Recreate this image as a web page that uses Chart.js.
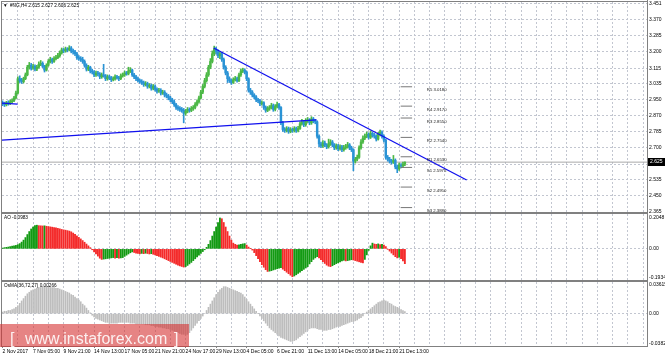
<!DOCTYPE html>
<html><head><meta charset="utf-8">
<script src="https://cdn.jsdelivr.net/npm/chart.js@4.4.1/dist/chart.umd.min.js"></script>
<style>
html,body{margin:0;padding:0;background:#fff;}
#wrap{position:relative;width:665px;height:357px;overflow:hidden;background:#fff;}
canvas{position:absolute;left:0;top:0;}
#wm{position:absolute;left:0;top:324px;width:189px;height:23px;background:rgba(214,50,50,0.6);}
#wm span{position:absolute;top:7px;font:16px 'Liberation Sans',Arial,sans-serif;line-height:1;color:rgba(255,255,255,0.88);white-space:pre;}
</style></head><body>
<div id="wrap">
<canvas id="cMain" width="665" height="357"></canvas>
<canvas id="cAO" width="665" height="357"></canvas>
<canvas id="cOs" width="665" height="357"></canvas>
<div id="wm"><span style="left:10px">[</span><span style="left:25px">www.instaforex.com</span><span style="left:174px">]</span></div>
</div>
<script>
// ---------------- DATA ----------------
const timeLabels = ['2 Nov 2017','7 Nov 05:00','9 Nov 21:00','14 Nov 13:00','17 Nov 05:00','21 Nov 21:00','24 Nov 17:00','29 Nov 13:00','4 Dec 05:00','6 Dec 21:00','11 Dec 13:00','14 Dec 05:00','18 Dec 21:00','21 Dec 13:00'];
const firstOpen = 2.935;
const closes = [
2.930,2.925,2.935,2.930,2.940,2.945,2.960,2.985,3.060,3.050,
3.045,3.060,3.080,3.120,3.130,3.115,3.125,3.110,3.120,3.135,
3.140,3.125,3.105,3.130,3.150,3.160,3.150,3.165,3.170,3.180,
3.195,3.210,3.205,3.215,3.210,3.220,3.205,3.200,3.190,3.170,
3.165,3.160,3.150,3.130,3.110,3.120,3.100,3.095,3.080,3.090,
3.085,3.070,3.080,3.075,3.060,3.070,3.065,3.055,3.060,3.070,
3.065,3.060,3.075,3.080,3.090,3.085,3.100,3.105,3.080,3.070,
3.060,3.050,3.045,3.040,3.030,3.035,3.020,3.025,3.010,3.020,
3.005,2.995,3.000,2.985,2.990,2.975,2.970,2.960,2.950,2.940,
2.925,2.910,2.905,2.900,2.895,2.880,2.890,2.900,2.895,2.905,
2.910,2.925,2.940,2.960,2.990,3.020,3.050,3.080,3.120,3.150,
3.190,3.215,3.200,3.180,3.190,3.160,3.120,3.090,3.060,3.050,
3.040,3.055,3.060,3.050,3.080,3.100,3.105,3.095,3.060,3.000,
2.990,2.975,2.965,2.950,2.945,2.930,2.935,2.910,2.895,2.905,
2.910,2.920,2.900,2.915,2.925,2.910,2.830,2.795,2.790,2.800,
2.785,2.795,2.790,2.800,2.790,2.800,2.825,2.835,2.820,2.840,
2.845,2.830,2.850,2.840,2.835,2.760,2.720,2.710,2.725,2.715,
2.705,2.720,2.730,2.715,2.700,2.710,2.695,2.705,2.690,2.700,
2.705,2.715,2.700,2.690,2.630,2.640,2.650,2.700,2.730,2.750,
2.760,2.770,2.755,2.775,2.765,2.760,2.745,2.770,2.780,2.760,
2.740,2.650,2.640,2.630,2.625,2.635,2.600,2.590,2.610,2.605,
2.615,2.625];
const highs = [
2.945,2.938,2.942,2.945,2.950,2.955,2.968,2.995,3.070,3.075,
3.062,3.068,3.090,3.130,3.145,3.140,3.135,3.132,3.130,3.148,
3.155,3.148,3.130,3.138,3.160,3.172,3.168,3.175,3.182,3.192,
3.205,3.220,3.218,3.225,3.222,3.232,3.228,3.215,3.208,3.198,
3.180,3.175,3.172,3.158,3.138,3.130,3.125,3.110,3.102,3.100,
3.098,3.092,3.090,3.135,3.082,3.080,3.078,3.072,3.070,3.080,
3.078,3.072,3.085,3.090,3.100,3.098,3.120,3.118,3.110,3.088,
3.078,3.068,3.058,3.055,3.048,3.045,3.042,3.035,3.032,3.030,
3.028,3.012,3.010,3.008,3.000,2.998,2.985,2.978,2.968,2.958,
2.948,2.932,2.920,2.915,2.910,2.905,2.900,2.910,2.908,2.915,
2.920,2.935,2.950,2.970,3.000,3.030,3.062,3.092,3.130,3.165,
3.205,3.230,3.225,3.210,3.200,3.198,3.168,3.128,3.098,3.070,
3.058,3.065,3.072,3.068,3.090,3.112,3.115,3.112,3.100,3.065,
3.010,2.998,2.982,2.972,2.958,2.952,2.945,2.940,2.918,2.915,
2.920,2.932,2.928,2.925,2.938,2.932,2.915,2.838,2.805,2.810,
2.808,2.805,2.802,2.810,2.808,2.812,2.835,2.848,2.842,2.852,
2.858,2.852,2.862,2.858,2.848,2.840,2.768,2.730,2.738,2.735,
2.722,2.745,2.742,2.738,2.722,2.720,2.718,2.715,2.712,2.712,
2.718,2.728,2.722,2.708,2.695,2.650,2.662,2.710,2.742,2.762,
2.772,2.782,2.778,2.788,2.782,2.775,2.768,2.780,2.792,2.788,
2.768,2.745,2.660,2.650,2.640,2.660,2.642,2.610,2.620,2.618,
2.625,2.627];
const lows = [
2.920,2.915,2.918,2.922,2.925,2.932,2.940,2.955,2.980,3.040,
3.035,3.038,3.055,3.075,3.110,3.105,3.108,3.100,3.102,3.115,
3.128,3.118,3.095,3.100,3.125,3.142,3.140,3.145,3.158,3.165,
3.172,3.188,3.195,3.198,3.200,3.205,3.195,3.188,3.180,3.160,
3.155,3.150,3.140,3.120,3.100,3.102,3.090,3.085,3.070,3.072,
3.075,3.060,3.062,3.068,3.050,3.052,3.055,3.045,3.048,3.052,
3.058,3.050,3.055,3.068,3.072,3.078,3.080,3.092,3.072,3.060,
3.050,3.042,3.035,3.030,3.020,3.022,3.010,3.012,3.000,3.002,
2.995,2.985,2.988,2.975,2.978,2.965,2.960,2.950,2.940,2.930,
2.915,2.900,2.895,2.890,2.885,2.830,2.870,2.882,2.885,2.888,
2.895,2.902,2.918,2.932,2.955,2.982,3.012,3.042,3.072,3.112,
3.142,3.180,3.188,3.170,3.165,3.150,3.110,3.080,3.040,3.040,
3.030,3.035,3.048,3.042,3.045,3.072,3.092,3.085,3.050,2.990,
2.978,2.965,2.955,2.940,2.935,2.920,2.922,2.900,2.885,2.888,
2.895,2.902,2.890,2.892,2.908,2.900,2.820,2.785,2.780,2.782,
2.775,2.778,2.780,2.782,2.780,2.782,2.795,2.818,2.810,2.812,
2.832,2.820,2.822,2.830,2.825,2.750,2.705,2.700,2.702,2.705,
2.695,2.698,2.712,2.705,2.690,2.692,2.685,2.688,2.680,2.682,
2.692,2.698,2.690,2.680,2.580,2.620,2.632,2.645,2.692,2.722,
2.742,2.752,2.745,2.748,2.755,2.750,2.735,2.740,2.762,2.750,
2.730,2.640,2.630,2.620,2.615,2.618,2.590,2.570,2.582,2.595,
2.598,2.606];
const aoValues = [
0.005,0.008,0.010,0.012,0.015,0.018,0.020,0.023,0.028,0.035,
0.045,0.058,0.075,0.095,0.115,0.132,0.145,0.155,0.157,0.154,
0.153,0.152,0.153,0.150,0.148,0.146,0.144,0.141,0.139,0.136,
0.133,0.129,0.126,0.124,0.121,0.118,0.113,0.105,0.096,0.086,
0.076,0.066,0.055,0.044,0.032,0.020,0.008,-0.006,-0.020,-0.034,
-0.048,-0.062,-0.070,-0.068,-0.066,-0.064,-0.062,-0.060,-0.058,-0.061,
-0.059,-0.062,-0.060,-0.058,-0.050,-0.042,-0.034,-0.026,-0.020,-0.024,
-0.028,-0.031,-0.033,-0.030,-0.032,-0.029,-0.031,-0.034,-0.032,-0.036,
-0.040,-0.045,-0.050,-0.055,-0.060,-0.066,-0.072,-0.078,-0.084,-0.090,
-0.096,-0.102,-0.108,-0.113,-0.117,-0.121,-0.118,-0.110,-0.100,-0.090,
-0.078,-0.066,-0.054,-0.042,-0.030,-0.018,-0.006,0.010,0.030,0.055,
0.085,0.115,0.145,0.175,0.205,0.200,0.175,0.145,0.115,0.085,
0.058,0.038,0.030,0.025,0.027,0.030,0.033,0.035,0.025,0.012,
0.002,-0.008,-0.025,-0.045,-0.065,-0.085,-0.105,-0.122,-0.138,-0.150,
-0.148,-0.145,-0.140,-0.136,-0.132,-0.128,-0.125,-0.135,-0.145,-0.155,
-0.165,-0.175,-0.185,-0.180,-0.172,-0.163,-0.154,-0.145,-0.136,-0.127,
-0.118,-0.100,-0.085,-0.070,-0.060,-0.052,-0.060,-0.072,-0.085,-0.097,
-0.108,-0.115,-0.118,-0.112,-0.105,-0.098,-0.092,-0.086,-0.080,-0.076,
-0.080,-0.078,-0.075,-0.072,-0.074,-0.078,-0.082,-0.086,-0.090,-0.093,
-0.070,-0.040,-0.010,0.020,0.038,0.032,0.030,0.033,0.028,0.030,
0.025,0.015,-0.002,-0.015,-0.028,-0.040,-0.052,-0.060,-0.056,-0.065,
-0.080,-0.0983];
const osmaValues = [
0.002,0.003,0.003,0.004,0.004,0.005,0.006,0.008,0.010,0.013,
0.016,0.019,0.022,0.025,0.027,0.029,0.030,0.031,0.032,0.033,
0.033,0.034,0.034,0.034,0.034,0.033,0.033,0.033,0.032,0.032,
0.031,0.030,0.029,0.028,0.027,0.026,0.024,0.023,0.021,0.019,
0.017,0.015,0.012,0.010,0.007,0.004,0.001,-0.002,-0.004,-0.006,
-0.007,-0.008,-0.009,-0.010,-0.011,-0.011,-0.012,-0.012,-0.012,-0.012,
-0.012,-0.011,-0.011,-0.011,-0.011,-0.011,-0.011,-0.012,-0.012,-0.012,
-0.013,-0.013,-0.013,-0.013,-0.013,-0.014,-0.014,-0.014,-0.015,-0.015,
-0.016,-0.016,-0.017,-0.017,-0.018,-0.018,-0.019,-0.019,-0.020,-0.021,
-0.022,-0.023,-0.024,-0.025,-0.026,-0.026,-0.027,-0.026,-0.024,-0.021,
-0.018,-0.015,-0.012,-0.009,-0.006,-0.003,0.000,0.004,0.008,0.012,
0.016,0.020,0.024,0.027,0.030,0.032,0.034,0.034,0.033,0.032,
0.031,0.030,0.029,0.028,0.027,0.026,0.024,0.021,0.018,0.015,
0.012,0.009,0.006,0.003,0.000,-0.003,-0.006,-0.009,-0.012,-0.015,
-0.018,-0.020,-0.022,-0.024,-0.026,-0.028,-0.030,-0.031,-0.032,-0.033,
-0.034,-0.035,-0.035,-0.034,-0.033,-0.031,-0.029,-0.027,-0.025,-0.023,
-0.021,-0.019,-0.018,-0.018,-0.018,-0.019,-0.020,-0.020,-0.021,-0.021,
-0.021,-0.020,-0.020,-0.019,-0.018,-0.017,-0.016,-0.016,-0.015,-0.014,
-0.013,-0.012,-0.011,-0.010,-0.010,-0.009,-0.008,-0.006,-0.005,-0.003,
0.000,0.002,0.004,0.006,0.008,0.010,0.012,0.014,0.015,0.016,
0.017,0.016,0.015,0.013,0.012,0.010,0.009,0.008,0.007,0.005,
0.004,0.00266];
const priceTicks = [3.451,3.370,3.285,3.200,3.115,3.035,2.950,2.870,2.785,2.700,2.615,2.535,2.450,2.365];
const aoTicks = [0.2048, 0, -0.1934];
const aoTickText = ['0.2048','0.00','-0.1934'];
const osmaTicks = [0.03615, 0, -0.03825];
const osmaTickText = ['0.03615','0.00','-0.03825'];
const pivotNames = ['R5','R4','R3','R2','R1','S1','S2','S3'];
const pivotValues = [3.0180,2.9170,2.8550,2.7540,2.6530,2.5975,2.4950,2.3880];
const resistanceLine = [{x:110.7,y:3.220},{x:243.4,y:2.532}];
const supportLine = [{x:-0.3,y:2.740},{x:164.7,y:2.845}];
const leftStub = [{x:-0.3,y:2.933},{x:7.9,y:2.928}];
const lastPrice = 2.625;

// ---------------- LAYOUT / STYLE ----------------
const X_MIN = -0.3, X_MAX = 338;
const PIV_FROM = 208.8, PIV_TO = 214.8, PIV_LABEL = 222.5;
const GRID = '#c2c6d0', FRAME = '#808080', BLUE = '#1010ee';
const BULL = '#4cb846', BEAR = '#2a93d5';
const FONT = "'Liberation Sans', Arial, sans-serif";
const FS = 5;          // axis labels
const FS_LBL = 4.7;    // title / indicator names
const FS_PIV = 4.3;    // pivot labels
Chart.defaults.font.family = FONT;
Chart.defaults.font.size = FS;
Chart.defaults.color = '#000';

const N = closes.length;
const opens = closes.map((c,i)=> i===0 ? firstOpen : closes[i-1]);
const candleColors = closes.map((c,i)=> c >= opens[i] ? BULL : BEAR);
const wickData = closes.map((c,i)=>({x:i, y:[lows[i], highs[i]]}));
const bodyData = closes.map((c,i)=>({x:i, y: c===opens[i] ? [c-0.0015, c+0.0015] : [opens[i], c]}));
const pivotSegs = [];
pivotValues.forEach(v=>{ pivotSegs.push({x:PIV_FROM,y:v},{x:PIV_TO,y:v},{x:PIV_TO+0.1,y:null}); });
const priceLineData = [{x:X_MIN,y:lastPrice},{x:X_MAX,y:lastPrice}];

function xScaleCfg(showLabels){
  return {
    type:'linear', min:X_MIN, max:X_MAX, offset:false,
    afterBuildTicks: s => { const t=[]; for(let v=0; v<=X_MAX; v+=8) t.push({value:v}); s.ticks=t; },
    grid:{ offset:false, drawTicks:showLabels, tickLength:2, tickBorderDash:[], lineWidth:1,
      color: ctx => (ctx.tick && ctx.tick.value===0) ? 'rgba(0,0,0,0)' : GRID,
      tickColor: ctx => (ctx.tick && ctx.tick.value%16===0 && ctx.tick.value/16 < timeLabels.length) ? FRAME : 'rgba(0,0,0,0)' },
    border:{ display:false, dash:[2,2] },
    ticks:{ display:showLabels, autoSkip:false, maxRotation:0, minRotation:0, align:'start', padding:1,
      callback: v => (v%16===0 && v/16 < timeLabels.length) ? timeLabels[v/16] : '' },
    afterFit: s => { s.height = showLabels ? 11 : 0; s.paddingLeft = 0; s.paddingRight = 0; }
  };
}
function yScaleCfg(min, max, vals, fmt, allGrid){
  return {
    position:'right', min, max,
    afterBuildTicks: s => { s.ticks = vals.map(v=>({value:v})); },
    ticks:{ autoSkip:false, padding:2, callback: v => fmt(v) },
    grid:{ drawTicks:false, color: ctx => (allGrid || (ctx.tick && ctx.tick.value===0)) ? GRID : 'rgba(0,0,0,0)' },
    border:{ display:false, dash:[2,2] },
    afterFit: s => { s.width = 18; s.paddingTop = 0; s.paddingBottom = 0; }
  };
}
const baseOpts = { responsive:false, animation:false, events:[], plugins:{legend:{display:false}, tooltip:{enabled:false}} };

const mainDeco = {
  id:'mainDeco',
  afterDatasetsDraw(chart){
    const ctx = chart.ctx, xs = chart.scales.x, ys = chart.scales.y;
    ctx.save();
    ctx.font = FS_PIV + 'px ' + FONT; ctx.fillStyle = '#202020'; ctx.textBaseline = 'middle'; ctx.textAlign = 'left';
    pivotValues.forEach((v,i)=>{ ctx.fillText(pivotNames[i] + ' ' + v.toFixed(4), xs.getPixelForValue(PIV_LABEL), ys.getPixelForValue(v) + 3.5); });
    ctx.restore();
  },
  afterDraw(chart){
    const ctx = chart.ctx, a = chart.chartArea, ys = chart.scales.y;
    ctx.save();
    const y = ys.getPixelForValue(lastPrice);
    ctx.fillStyle = '#000'; ctx.fillRect(a.right+1, Math.round(y)-4, 18, 8);
    ctx.fillStyle = '#fff'; ctx.font = FS + 'px ' + FONT; ctx.textBaseline = 'middle'; ctx.textAlign='left';
    ctx.fillText(lastPrice.toFixed(3), a.right+3, Math.round(y));
    ctx.fillStyle = '#000'; ctx.font = FS_LBL + 'px ' + FONT;
    ctx.fillText('\u25BC', a.left+1, a.top+4);
    ctx.fillText('#NG,H4 ' + opens[N-1].toFixed(3) + ' ' + highs[N-1].toFixed(3) + ' ' + lows[N-1].toFixed(3) + ' ' + closes[N-1].toFixed(3), a.left+8, a.top+4);
    ctx.restore();
  }
};
function labelPlugin(textFn){
  return { id:'lbl', afterDraw(chart){ const ctx=chart.ctx, a=chart.chartArea; ctx.save(); ctx.font = FS_LBL+'px '+FONT; ctx.fillStyle='#000'; ctx.textBaseline='middle'; ctx.textAlign='left'; ctx.fillText(textFn(), a.left+2, a.top+4); ctx.restore(); } };
}

const mainChart = new Chart(document.getElementById('cMain'), {
  type:'bar',
  data:{ datasets:[
    {type:'line', data:resistanceLine, borderColor:BLUE, borderWidth:1.3, pointRadius:0, tension:0, order:0},
    {type:'line', data:supportLine, borderColor:BLUE, borderWidth:1.3, pointRadius:0, tension:0, order:0},
    {type:'line', data:leftStub, borderColor:BLUE, borderWidth:1.3, pointRadius:0, tension:0, order:0},
    {type:'line', data:pivotSegs, borderColor:'#777', borderWidth:1, pointRadius:0, spanGaps:false, tension:0, order:0},
    {type:'line', data:priceLineData, borderColor:'#a8a8a8', borderWidth:1, pointRadius:0, tension:0, order:3},
    {type:'bar', data:wickData, backgroundColor:candleColors, barThickness:1, grouped:false, order:2},
    {type:'bar', data:bodyData, backgroundColor:candleColors, barThickness:1.8, grouped:false, order:1}
  ]},
  options:Object.assign({}, baseOpts, {
    layout:{padding:{left:2,right:0,top:2,bottom:145}},
    scales:{ x:xScaleCfg(false), y:yScaleCfg(2.365, 3.460, priceTicks, v=>v.toFixed(3), true) }
  }),
  plugins:[mainDeco]
});

const aoColors = aoValues.map((v,i)=> (i===0 || v > aoValues[i-1]) ? '#139a13' : '#f42a2a');
const aoChart = new Chart(document.getElementById('cAO'), {
  type:'bar',
  data:{ datasets:[{ data: aoValues.map((v,i)=>({x:i,y:v})), backgroundColor:aoColors, barThickness:1.2, grouped:false }]},
  options:Object.assign({}, baseOpts, {
    layout:{padding:{left:2,right:0,top:214,bottom:77}},
    scales:{ x:xScaleCfg(false), y:yScaleCfg(-0.2067, 0.2314, aoTicks, v=>aoTickText[aoTicks.indexOf(v)], false) }
  }),
  plugins:[labelPlugin(()=> 'AO ' + aoValues[N-1].toFixed(4))]
});

const frame = {
  id:'frame',
  afterDraw(chart){
    const ctx = chart.ctx, a = chart.chartArea;
    const mA = mainChart.chartArea, aA = aoChart.chartArea;
    ctx.save();
    ctx.strokeStyle = FRAME; ctx.lineWidth = 1;
    ctx.beginPath();
    ctx.moveTo(1.5, 1); ctx.lineTo(1.5, a.bottom+0.5);
    ctx.moveTo(1, 1.5); ctx.lineTo(a.right, 1.5);
    ctx.moveTo(a.right+0.5, 0); ctx.lineTo(a.right+0.5, a.bottom+1);
    ctx.moveTo(1, a.bottom+0.5); ctx.lineTo(a.right+1, a.bottom+0.5);
    ctx.stroke();
    ctx.fillStyle = FRAME;
    ctx.fillRect(1, mA.bottom, a.right, 2);
    ctx.fillRect(1, aA.bottom, a.right, 2);
    ctx.restore();
  }
};
const osChart = new Chart(document.getElementById('cOs'), {
  type:'bar',
  data:{ datasets:[{ data: osmaValues.map((v,i)=>({x:i,y:v})), backgroundColor:'#bdbdbd', barThickness:1, grouped:false }]},
  options:Object.assign({}, baseOpts, {
    layout:{padding:{left:2,right:0,top:282,bottom:0}},
    scales:{ x:xScaleCfg(true), y:yScaleCfg(-0.0408, 0.0399, osmaTicks, v=>osmaTickText[osmaTicks.indexOf(v)], false) }
  }),
  plugins:[labelPlugin(()=> 'OsMA(36,72,27) ' + osmaValues[N-1].toFixed(5)), frame]
});
</script>
</body></html>
